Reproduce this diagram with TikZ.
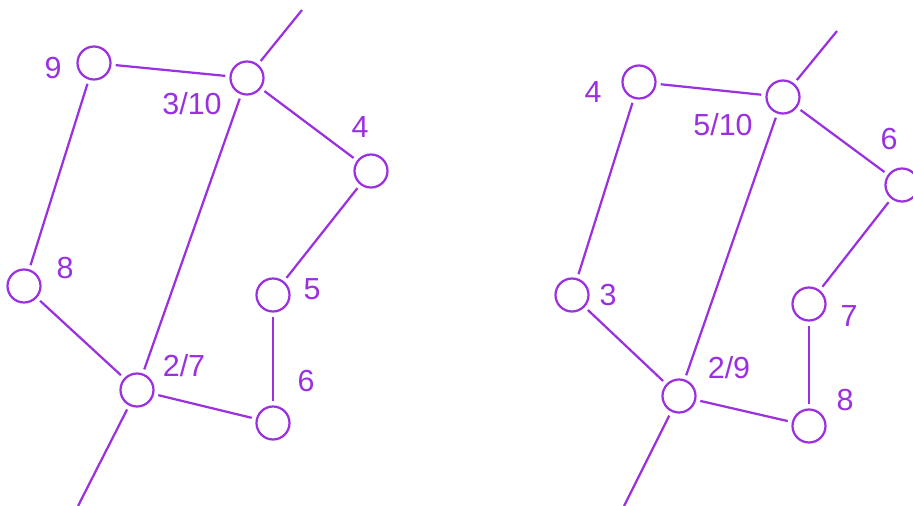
\documentclass[tikz,border=0pt]{standalone}
\usepackage{fontspec}
\setmainfont{Liberation Sans}
\usetikzlibrary{positioning}
\definecolor{cpurple}{HTML}{9A30E0}
\tikzset{
  every picture/.style={line width=1.9pt},
  vertex/.style={circle, draw=cpurple, minimum size=0.99cm, inner sep=0pt, outer sep=0.16cm},
  edge/.style={draw=cpurple},
  num/.style={text=cpurple, font=\fontsize{26}{28}\selectfont, inner sep=0pt},
}

\begin{document}
\begin{tikzpicture}[x=0.03cm, y=-0.03cm]
  \useasboundingbox (0,0) rectangle (913,506);
  % left graph
  \node[vertex] (a9) at (94,63) {};
  \node[vertex] (a310) at (247,78) {};
  \node[vertex] (a4) at (371,171) {};
  \node[vertex] (a5) at (273,295) {};
  \node[vertex] (a6) at (273,423) {};
  \node[vertex] (a27) at (137,390) {};
  \node[vertex] (a8) at (24,286) {};
  \coordinate (atop) at (302,10);
  \coordinate (abot) at (78,506);
  \node[num] (l9) at (53,68) {9};
  \node[num] (l310) at (192,104) {3/10};
  \node[num] (l4) at (360,127) {4};
  \node[num] (l5) at (312,289) {5};
  \node[num] (l6) at (306,381) {6};
  \node[num] (l27) at (184,366) {2/7};
  \node[num] (l8) at (65,268) {8};
  \draw[edge] (a310) -- (atop);
  \draw[edge] (a9) -- (a310);
  \draw[edge] (a310) -- (a4);
  \draw[edge] (a4) -- (a5);
  \draw[edge] (a5) -- (a6);
  \draw[edge] (a6) -- (a27);
  \draw[edge] (a27) -- (a8);
  \draw[edge] (a8) -- (a9);
  \draw[edge] (a27) -- (a310);
  \draw[edge] (a27) -- (abot);
  % right graph
  \node[vertex] (b4) at (639,82) {};
  \node[vertex] (b510) at (783,97) {};
  \node[vertex] (b6) at (902,185) {};
  \node[vertex] (b7) at (809,304) {};
  \node[vertex] (b8) at (809,426) {};
  \node[vertex] (b29) at (679,396) {};
  \node[vertex] (b3) at (572,295) {};
  \coordinate (btop) at (837,31);
  \coordinate (bbot) at (624,506);
  \node[num] (m4) at (593,92) {4};
  \node[num] (m510) at (723,125) {5/10};
  \node[num] (m6) at (889,139) {6};
  \node[num] (m7) at (849,316) {7};
  \node[num] (m8) at (845,400) {8};
  \node[num] (m29) at (729,368) {2/9};
  \node[num] (m3) at (608,295) {3};
  \draw[edge] (b510) -- (btop);
  \draw[edge] (b4) -- (b510);
  \draw[edge] (b510) -- (b6);
  \draw[edge] (b6) -- (b7);
  \draw[edge] (b7) -- (b8);
  \draw[edge] (b8) -- (b29);
  \draw[edge] (b29) -- (b3);
  \draw[edge] (b3) -- (b4);
  \draw[edge] (b29) -- (b510);
  \draw[edge] (b29) -- (bbot);
\end{tikzpicture}
\end{document}
